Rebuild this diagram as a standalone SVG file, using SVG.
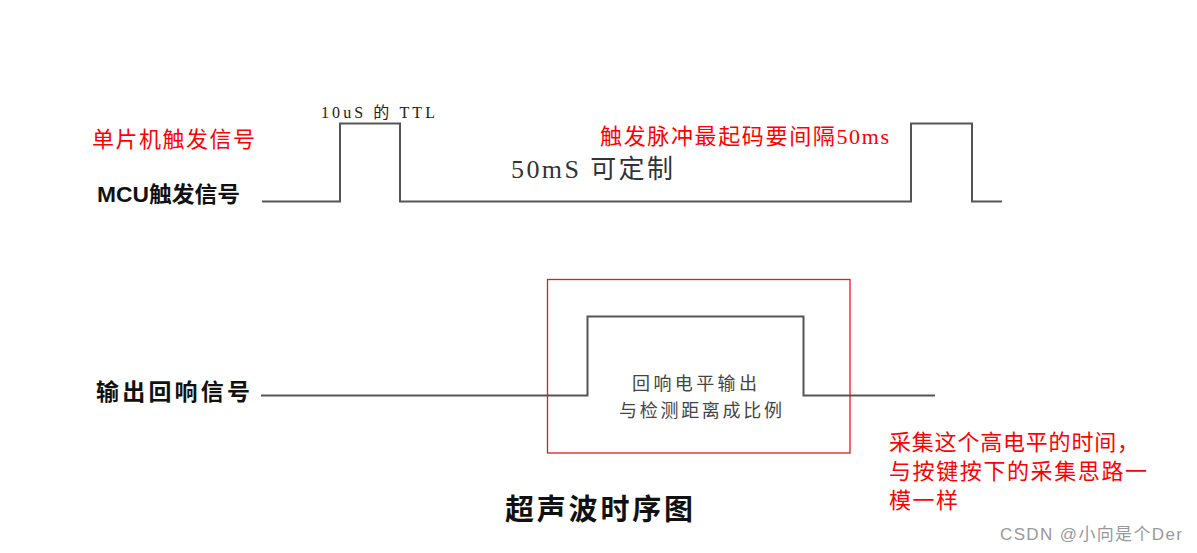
<svg xmlns="http://www.w3.org/2000/svg" width="1197" height="553" viewBox="0 0 1197 553">
<style>
.wave{fill:none;stroke:#555;stroke-width:2;stroke-linejoin:miter}
.red{fill:#f00;font-family:"Liberation Serif","Noto Sans CJK SC",serif;font-size:22px}
.lab{fill:#111;font-family:"Liberation Sans","Noto Sans CJK SC",sans-serif;font-weight:bold}
.gray{fill:#444;font-family:"Liberation Sans","Noto Sans CJK SC",sans-serif}
</style>
<rect x="0" y="0" width="1197" height="553" fill="#fff"/>
<g id="connectors">
<polyline id="wave-mcu" class="wave" points="262,201.5 340,201.5 340,123.5 400,123.5 400,201.5 911,201.5 911,123.5 972,123.5 972,201.5 1002,201.5"/>
<polyline id="wave-echo" class="wave" points="261,395.5 587.5,395.5 587.5,316.5 803.5,316.5 803.5,395.5 935,395.5"/>
</g>
<g id="note-trigger">
<text class="red" x="92" y="147" font-size="23" textLength="163" lengthAdjust="spacing">单片机触发信号</text>
</g>
<g id="label-mcu">
<text class="lab" x="97" y="202" font-size="22" textLength="143" lengthAdjust="spacingAndGlyphs">MCU触发信号</text>
</g>
<g id="label-ttl">
<text x="321" y="118" font-family="'Liberation Serif','Noto Sans CJK SC',serif" font-size="16" fill="#222" textLength="114" lengthAdjust="spacing">10uS 的 TTL</text>
</g>
<g id="note-interval">
<text class="red" x="600" y="144" textLength="289" lengthAdjust="spacing">触发脉冲最起码要间隔50ms</text>
</g>
<g id="label-50ms">
<text x="511" y="178" font-family="'Liberation Serif','Noto Sans CJK SC',serif" font-size="26" fill="#333" textLength="162" lengthAdjust="spacing">50mS 可定制</text>
</g>
<g id="label-echo">
<text class="lab" x="96" y="400" font-size="23" textLength="154" lengthAdjust="spacing">输出回响信号</text>
</g>
<g id="highlight-box">
<rect x="547.5" y="279.5" width="302.5" height="173.5" fill="none" stroke="#e01b24" stroke-width="1.3"/>
<text class="gray" x="632" y="390" font-size="18" textLength="125" lengthAdjust="spacing">回响电平输出</text>
<text class="gray" x="619" y="417" font-size="18" textLength="163" lengthAdjust="spacing">与检测距离成比例</text>
</g>
<g id="note-capture">
<text class="red" x="889" y="450" textLength="250" lengthAdjust="spacing">采集这个高电平的时间，</text>
<text class="red" x="889" y="479" textLength="258" lengthAdjust="spacing">与按键按下的采集思路一</text>
<text class="red" x="889" y="508" textLength="69" lengthAdjust="spacing">模一样</text>
</g>
<g id="title">
<text class="lab" x="505" y="520" font-size="29" textLength="188" lengthAdjust="spacing">超声波时序图</text>
</g>
<g id="watermark">
<text x="1000" y="540" font-family="'Liberation Sans','Noto Sans CJK SC',sans-serif" font-size="17" fill="#999" textLength="182" lengthAdjust="spacing">CSDN @小向是个Der</text>
</g>
</svg>
